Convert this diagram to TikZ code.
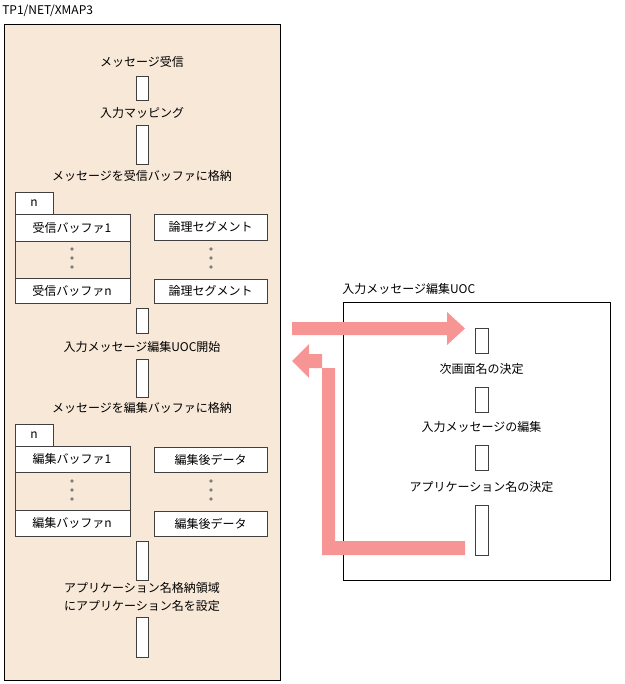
\documentclass[tikz,border=0pt]{standalone}
\usepackage{fontspec}
\setmainfont{Noto Sans CJK JP}
\definecolor{beige}{HTML}{F8E8D8}
\definecolor{pinkar}{HTML}{F79494}
\begin{document}
\begin{tikzpicture}[x=0.75pt,y=-0.75pt,font=\fontsize{9pt}{11pt}\selectfont,
  bar/.style={draw=black!75,fill=white,line width=0.6pt},
  lbl/.style={inner sep=0pt,anchor=center},
  cell/.style={draw=black!75,fill=white,line width=0.6pt}]
\useasboundingbox (0,0) rectangle (624,684);
\node[lbl,anchor=west] (t1) at (2,11) {TP1/NET/XMAP3};
\draw[fill=beige,line width=0.6pt] (4,24) rectangle (280,680);
% left column
\node[lbl] (l1) at (142,62) {メッセージ受信};
\draw[bar] (136,76) rectangle (148,100);
\node[lbl] (l2) at (142,113) {入力マッピング};
\draw[bar] (136,125) rectangle (148,164);
\node[lbl] (l3) at (142,176) {メッセージを受信バッファに格納};
\draw[cell] (15,192) rectangle (53,214); \node[lbl] (n1) at (34,203) {n};
\draw[cell] (15,214) rectangle (130,241); \node[lbl] (b1) at (72,227.5) {受信バッファ1};
\draw[draw=black!75,line width=0.6pt] (15,241) rectangle (130,278);
\draw[cell] (15,278) rectangle (130,303); \node[lbl] (b2) at (72,290.5) {受信バッファn};
\foreach \y in {249,258,267} {\draw[fill=white,line width=0.3pt] (72,\y) circle (1.3);}
\draw[cell] (154,214) rectangle (267,240); \node[lbl] (s1) at (210.5,227) {論理セグメント};
\draw[cell] (154,279) rectangle (267,303); \node[lbl] (s2) at (210.5,291) {論理セグメント};
\foreach \y in {249,258,267} {\draw[fill=white,line width=0.3pt] (211,\y) circle (1.3);}
\draw[bar] (136,308) rectangle (148,333);
\node[lbl] (l4) at (142,347) {入力メッセージ編集UOC開始};
\draw[bar] (136,359) rectangle (148,397);
\node[lbl] (l5) at (142,408) {メッセージを編集バッファに格納};
\draw[cell] (15,424) rectangle (53,446); \node[lbl] (n2) at (34,435) {n};
\draw[cell] (15,446) rectangle (130,472); \node[lbl] (e1) at (72,459) {編集バッファ1};
\draw[draw=black!75,line width=0.6pt] (15,472) rectangle (130,510);
\draw[cell] (15,510) rectangle (130,536); \node[lbl] (e2) at (72,523) {編集バッファn};
\foreach \y in {481,490,499} {\draw[fill=white,line width=0.3pt] (72,\y) circle (1.3);}
\draw[cell] (154,447) rectangle (267,472); \node[lbl] (d1) at (210.5,459.5) {編集後データ};
\draw[cell] (154,511) rectangle (267,536); \node[lbl] (d2) at (210.5,523.5) {編集後データ};
\foreach \y in {481,490,499} {\draw[fill=white,line width=0.3pt] (211,\y) circle (1.3);}
\draw[bar] (136,541) rectangle (148,580);
\node[lbl] (l6) at (142,588) {アプリケーション名格納領域};
\node[lbl] (l7) at (142,606) {にアプリケーション名を設定};
\draw[bar] (136,617) rectangle (148,657);
% right box
\node[lbl,anchor=west] (t2) at (342,289) {入力メッセージ編集UOC};
\draw[fill=white,line width=0.6pt] (343,302) rectangle (610,580);
\draw[bar] (475,328) rectangle (488,353);
\node[lbl] (r1) at (481.5,369) {次画面名の決定};
\draw[bar] (475,387) rectangle (488,412);
\node[lbl] (r2) at (481.5,427) {入力メッセージの編集};
\draw[bar] (475,445) rectangle (488,470);
\node[lbl] (r3) at (481.5,487) {アプリケーション名の決定};
\draw[bar] (475,505) rectangle (488,555);
% arrows
\fill[pinkar] (292,322) -- (447,322) -- (447,312) -- (465,328.5) -- (447,345) -- (447,335) -- (292,335) -- cycle;
\fill[pinkar] (465,541) -- (335,541) -- (335,368) -- (309,368) -- (309,378) -- (292,361) -- (309,344) -- (309,354) -- (322,354) -- (322,555) -- (465,555) -- cycle;
\end{tikzpicture}
\end{document}
